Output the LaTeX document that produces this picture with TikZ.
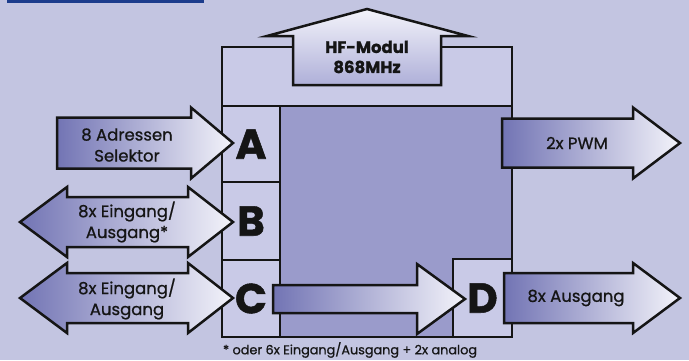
\documentclass[tikz,border=0pt]{standalone}
\usepackage{fontspec}
\setmainfont{Poppins}
\newfontfamily\medfont{Poppins}[FakeBold=0.8]
\newfontfamily\heavyfont{Poppins Bold}[FakeBold=1.2]
\definecolor{bgcol}{HTML}{C3C5E1}
\definecolor{topbar}{HTML}{1C3C8C}
\definecolor{boxlight}{HTML}{C9CAE7}
\definecolor{boxdark}{HTML}{9A9BCB}
\definecolor{arrdark}{HTML}{7274B4}
\definecolor{arrmid}{HTML}{B9BADF}
\definecolor{arrlight}{HTML}{F3F3FA}
\definecolor{ink}{HTML}{151515}
\newcommand{\rarrow}[7][]{\draw[arr,#1] (#2,{#5-#6}) -- (#3,{#5-#6}) -- (#3,{#5-#7}) -- (#4,#5) -- (#3,{#5+#7}) -- (#3,{#5+#6}) -- (#2,{#5+#6}) -- cycle;}
\newcommand{\darrow}[7]{\draw[arr] (#1,#5) -- (#2,{#5-#7}) -- (#2,{#5-#6}) -- (#3,{#5-#6}) -- (#3,{#5-#7}) -- (#4,#5) -- (#3,{#5+#7}) -- (#3,{#5+#6}) -- (#2,{#5+#6}) -- (#2,{#5+#7}) -- cycle;}
\begin{document}
\begin{tikzpicture}[x=1pt,y=-1pt,
  arr/.style={draw=ink, line width=2.5pt, line join=miter, left color=arrdark, middle color=arrmid, right color=arrlight},
  boxline/.style={draw=ink, line width=2pt},
  cell/.style={boxline, fill=boxlight, inner sep=0pt, font=\heavyfont\fontsize{42}{42}\selectfont, text=ink},
  lbl/.style={font=\medfont\fontsize{16.5}{21}\selectfont, text=ink, align=center, inner sep=0pt},
  note/.style={font=\medfont\fontsize{12.8}{14}\selectfont, text=ink, inner sep=0pt}]
\fill[bgcol] (0,0) rectangle (689,360);
\useasboundingbox (0,0) rectangle (689,360);
\fill[topbar] (7,0) rectangle (204,2.5);
% main box
\node (top) [boxline, fill=boxlight, minimum width=290pt, minimum height=59pt, inner sep=0pt] at (367,76.5) {};
\node (core) [boxline, fill=boxdark, minimum width=232pt, minimum height=231pt, inner sep=0pt] at (396,221.5) {};
\node (cellA) [cell, minimum width=58pt, minimum height=76pt] at (251,144) {A};
\node (cellB) [cell, minimum width=58pt, minimum height=78pt] at (251,221) {B};
\node (cellC) [cell, minimum width=58pt, minimum height=77pt] at (251,298.5) {C};
\node (cellD) [cell, minimum width=59pt, minimum height=78pt] at (482.5,298) {D};
% HF arrow (up)
\draw[draw=ink, line width=2.5pt, line join=miter, top color=arrlight, bottom color=arrmid!85!arrdark]
  (293,85) -- (293,36) -- (267,36) -- (367,9) -- (468,36) -- (441,36) -- (441,85) -- cycle;
\node (hf) [lbl, font=\heavyfont\fontsize{16.5}{20}\selectfont] at (367,57) {HF-Modul\\868MHz};
% left arrows
\rarrow{57}{191}{233}{143}{25.5}{35.5}
\node (adr) [lbl] at (127,145) {8 Adressen\\Selektor};
\darrow{20}{67}{188}{233}{222}{25}{35}
\node (eaB) [lbl] at (127,222) {8x Eingang/\\Ausgang*};
\darrow{20}{67}{188}{233}{298}{25}{35}
\node (eaC) [lbl] at (127,299) {8x Eingang/\\Ausgang};
% C to D
\rarrow{273}{417}{465}{299}{14}{35}
% right arrows
\rarrow{502}{633}{680}{143}{24.5}{35.5}
\node (pwm) [lbl] at (577,143) {2x PWM};
\rarrow{504}{633}{680}{298}{25}{35}
\node (aus) [lbl] at (576,298) {8x Ausgang};
\node (fn) [note] at (350,350) {* oder 6x Eingang/Ausgang + 2x analog};
\end{tikzpicture}
\end{document}
